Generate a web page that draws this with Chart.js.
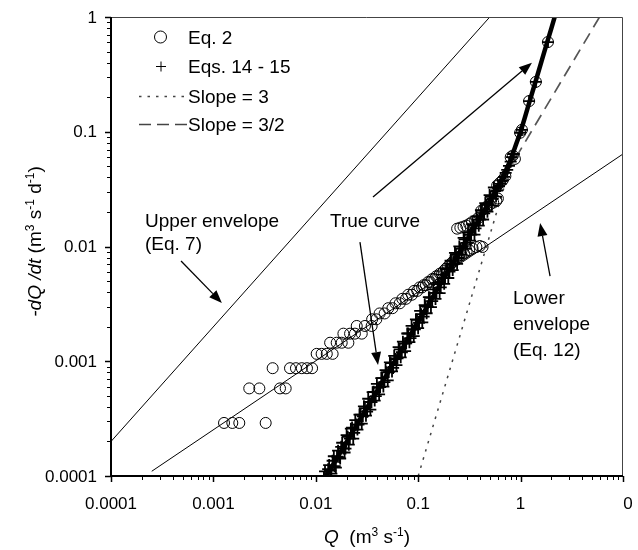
<!DOCTYPE html>
<html>
<head>
<meta charset="utf-8">
<script src="https://cdn.jsdelivr.net/npm/chart.js@4.4.0/dist/chart.umd.min.js"></script>
<style>
html, body { margin: 0; padding: 0; background: #fff; }
canvas { display: block; }
</style>
</head>
<body>
<canvas id="chart" width="638" height="550"></canvas>
<script>
// Eq. 2 (circles), Q and -dQ/dt
var eq2Q = [0.00127, 0.00153, 0.00179, 0.00324,
  0.00224, 0.00281, 0.00447, 0.00508,
  0.00379, 0.0056, 0.0064, 0.0073, 0.0082, 0.0092,
  0.0102, 0.0114, 0.0128, 0.0146,
  0.0138, 0.0160, 0.0179, 0.0208,
  0.0186, 0.0216, 0.0241, 0.0281,
  0.0251, 0.0302, 0.0351,
  0.0355, 0.039, 0.042, 0.047, 0.051, 0.056, 0.060, 0.066, 0.070, 0.076,
  0.080, 0.087, 0.091, 0.098, 0.103, 0.109, 0.113, 0.119, 0.125, 0.131,
  0.137, 0.144, 0.150, 0.157, 0.163, 0.171, 0.177, 0.186, 0.196, 0.206,
  0.216, 0.226, 0.238, 0.250, 0.265, 0.280, 0.297, 0.315, 0.340, 0.370, 0.400, 0.425,
  0.240, 0.258, 0.277, 0.295, 0.315, 0.335, 0.360, 0.385,
  0.413, 0.440, 0.465, 0.500, 0.540, 0.580, 0.600,
  0.590, 0.630, 0.670, 0.710, 0.800, 0.840, 0.880,
  0.990, 1.030, 1.210, 1.410, 1.850];
var eq2Y = [0.00029, 0.00029, 0.00029, 0.00029,
  0.00058, 0.00058, 0.00058, 0.00058,
  0.00087, 0.00087, 0.00087, 0.00087, 0.00087, 0.00087,
  0.00116, 0.00116, 0.00116, 0.00116,
  0.00145, 0.00145, 0.00145, 0.00145,
  0.00174, 0.00174, 0.00174, 0.00174,
  0.00203, 0.00203, 0.00203,
  0.00232, 0.00232, 0.00261, 0.00261, 0.0029, 0.0029, 0.0032, 0.0032, 0.0035, 0.0035,
  0.0038, 0.0038, 0.0041, 0.0041, 0.0044, 0.0044, 0.0046, 0.0046, 0.0049, 0.0049,
  0.0052, 0.0052, 0.0055, 0.0055, 0.0058, 0.0058, 0.0061, 0.0064, 0.0067, 0.0070,
  0.0073, 0.0076, 0.0079, 0.0081, 0.0084, 0.0087, 0.0090, 0.0093, 0.0096, 0.0099, 0.0101, 0.0099,
  0.0143, 0.0146, 0.0149, 0.0152, 0.0157, 0.0163, 0.0168, 0.0177,
  0.0205, 0.0212, 0.0222, 0.0232, 0.0241, 0.0250, 0.0262,
  0.034, 0.036, 0.038, 0.041, 0.060, 0.062, 0.058,
  0.098, 0.104, 0.185, 0.272, 0.605];

// Eqs. 14 - 15 (plus signs)
var eqsQ = [0.0120, 0.0126, 0.0132, 0.0139, 0.0146, 0.0153, 0.0161, 0.0169, 0.0177, 0.0186,
  0.0195, 0.0205, 0.0215, 0.0226, 0.0237, 0.0249, 0.0261, 0.0274, 0.0288, 0.0302,
  0.0317, 0.0333, 0.0350, 0.0367, 0.0385, 0.0405, 0.0425, 0.0446, 0.0468, 0.0492,
  0.0516, 0.0542, 0.0569, 0.0598, 0.0628, 0.0659, 0.0692, 0.0727, 0.0763, 0.0801,
  0.0841, 0.0883, 0.0927, 0.0974, 0.102, 0.107, 0.113, 0.118, 0.124, 0.130,
  0.137, 0.144, 0.151, 0.158, 0.166, 0.175, 0.183, 0.192, 0.202, 0.212,
  0.223, 0.234, 0.246, 0.258, 0.271, 0.284, 0.299, 0.314, 0.329, 0.346,
  0.363, 0.381, 0.400, 0.420, 0.441, 0.463, 0.486, 0.510, 0.535, 0.562, 0.590,
  0.615, 0.640, 0.665, 0.690, 0.715, 0.740, 0.770, 0.800, 0.820, 0.860,
  0.990, 1.030, 1.210, 1.410, 1.850,
  0.0123, 0.0129, 0.0135, 0.0142, 0.0150, 0.0157, 0.0165, 0.0173, 0.0181, 0.0191,
  0.0200, 0.0210, 0.0220, 0.0232, 0.0243, 0.0255, 0.0267, 0.0281, 0.0295, 0.0309,
  0.0325, 0.0341, 0.0359, 0.0376, 0.0395, 0.0415, 0.0436, 0.0457, 0.0480, 0.0504,
  0.0529, 0.0555, 0.0583, 0.0613, 0.0644, 0.0675, 0.0709, 0.0745, 0.0782, 0.0821,
  0.0862, 0.0905, 0.0950, 0.0998, 0.1045, 0.1096, 0.1158, 0.1209, 0.1271, 0.1332,
  0.1404, 0.1476, 0.1547, 0.1619, 0.1701, 0.1793, 0.1875, 0.1967, 0.2070, 0.2172,
  0.2285, 0.2398, 0.2521, 0.2644, 0.2777, 0.2910, 0.3064, 0.3218, 0.3371, 0.3545,
  0.3720, 0.3904, 0.4099, 0.4304, 0.4519, 0.4744, 0.4980, 0.5226, 0.5482, 0.5759];
var eqsY = [0.0000966, 0.0000931, 0.0001147, 0.0001113, 0.0001358, 0.0001219, 0.0001473, 0.0001461, 0.0001797, 0.0001740,
  0.0001735, 0.0002199, 0.0002119, 0.0002640, 0.0002375, 0.0002805, 0.0002804, 0.0003429, 0.0003318, 0.0003894,
  0.0003635, 0.0004424, 0.0004400, 0.0005413, 0.0004971, 0.0005876, 0.0005949, 0.0007121, 0.0006591, 0.0008021,
  0.0008041, 0.0009628, 0.0008741, 0.0010442, 0.0010575, 0.0012671, 0.0011978, 0.0014271, 0.0014310, 0.0017456,
  0.0015877, 0.0018918, 0.0018967, 0.0022981, 0.0021663, 0.0025726, 0.0024463, 0.0030076, 0.0029955, 0.0035764,
  0.0033366, 0.0039399, 0.0039431, 0.0047040, 0.0044029, 0.0053296, 0.0053156, 0.0064781, 0.0060373, 0.0069695,
  0.0070766, 0.0085576, 0.0079429, 0.0096321, 0.0095791, 0.0115479, 0.0107580, 0.0126862, 0.0126814, 0.0152440,
  0.0143907, 0.0171205, 0.0171774, 0.0205777, 0.0194751, 0.0231558, 0.0232424, 0.0270245, 0.0260228, 0.0303769, 0.0307713,
  0.0335, 0.0352, 0.0378, 0.0405, 0.0438, 0.0465, 0.0505, 0.0548, 0.060, 0.064,
  0.098, 0.104, 0.185, 0.272, 0.605,
  0.0001097, 0.0000893, 0.0001244, 0.0001047, 0.0001486, 0.0001182, 0.0001661, 0.0001420, 0.0001948, 0.0001603,
  0.0002274, 0.0001875, 0.0002587, 0.0002121, 0.0003073, 0.0002538, 0.0003429, 0.0002865, 0.0004045, 0.0003354,
  0.0004713, 0.0003794, 0.0005373, 0.0004543, 0.0006363, 0.0005148, 0.0007124, 0.0006017, 0.0008380, 0.0006814,
  0.0009787, 0.0008154, 0.0011136, 0.0009238, 0.0013254, 0.0010809, 0.0014803, 0.0012240, 0.0017444, 0.0014649,
  0.0020364, 0.0016574, 0.0023156, 0.0019422, 0.0027436, 0.0021855, 0.0030890, 0.0026193, 0.0036143, 0.0029609,
  0.0042341, 0.0034914, 0.0048141, 0.0039216, 0.0056963, 0.0047307, 0.0063661, 0.0053144, 0.0075145, 0.0062368,
  0.0087929, 0.0070682, 0.0100106, 0.0084684, 0.0118821, 0.0095604, 0.0132955, 0.0112424, 0.0156202, 0.0127085,
  0.0182615, 0.0151969, 0.0207562, 0.0171940, 0.0238155, 0.0201296, 0.0280445, 0.0227425, 0.0326751, 0.0272256];

// true curve (thick line)
var trueQ = [0.011, 0.02, 0.05, 0.1, 0.2, 0.3, 0.4, 0.5, 0.6, 0.7, 0.8, 0.9, 1.0, 1.1, 1.2, 1.4, 1.6, 1.8, 2.0, 2.2];
var trueY = [0.000081, 0.000198, 0.00078, 0.0022, 0.0063, 0.0115, 0.0177, 0.0247, 0.0335, 0.0435, 0.057, 0.077, 0.100, 0.133, 0.173, 0.274, 0.41, 0.585, 0.80, 1.07];

// reference lines, end points
var slope3Q = [0.1, 2.154];
var slope3Y = [0.0001, 1];
var slope32Q = [0.3, 5.9];
var slope32Y = [0.0115, 1];
var upperQ = [0.0001, 0.5];
var upperY = [0.0002, 1];
var lowerQ = [0.00025, 10];
var lowerY = [0.00011, 0.064];

// axes
var xTickValues = [0.0001, 0.001, 0.01, 0.1, 1, 10];
var xTickLabels = ['0.0001', '0.001', '0.01', '0.1', '1', '0'];
var yTickValues = [0.0001, 0.001, 0.01, 0.1, 1];
var yTickLabels = ['0.0001', '0.001', '0.01', '0.1', '1'];

// arrows: [fromQ, fromY, toQ, toY]
var arrows = [
  [0.000483, 0.00748, 0.00121, 0.00322],
  [0.0362, 0.027, 1.29, 0.40],
  [0.027, 0.0109, 0.0405, 0.000927],
  [1.94, 0.00553, 1.55, 0.016]
];

var fontFamily = '"Liberation Sans", Arial, Helvetica, sans-serif';

function pts(qs, ys) {
  return qs.map(function (q, i) { return { x: q, y: ys[i] }; });
}

function drawArrow(ctx, x0, y0, x1, y1) {
  var a = Math.atan2(y1 - y0, x1 - x0), len = 13, half = 5;
  var bx = x1 - len * Math.cos(a), by = y1 - len * Math.sin(a);
  ctx.beginPath();
  ctx.moveTo(x0, y0);
  ctx.lineTo(bx, by);
  ctx.stroke();
  ctx.beginPath();
  ctx.moveTo(x1, y1);
  ctx.lineTo(bx + half * Math.sin(a), by - half * Math.cos(a));
  ctx.lineTo(bx - half * Math.sin(a), by + half * Math.cos(a));
  ctx.closePath();
  ctx.fill();
}

// runs: [text, italic, superscript]
function runFont(r, size) {
  return (r[1] ? 'italic ' : '') + (r[2] ? 12 : size) + 'px ' + fontFamily;
}
function runsWidth(ctx, runs, size) {
  var w = 0;
  runs.forEach(function (r) { ctx.font = runFont(r, size); w += ctx.measureText(r[0]).width; });
  return w;
}
function drawRuns(ctx, runs, x, y, size) {
  runs.forEach(function (r) {
    ctx.font = runFont(r, size);
    ctx.fillText(r[0], x, r[2] ? y - 7 : y);
    x += ctx.measureText(r[0]).width;
  });
}

var decorPlugin = {
  id: 'decor',
  afterDatasetsDraw: function (chart) {
    var ctx = chart.ctx, xs = chart.scales.x, ys = chart.scales.y, ca = chart.chartArea;
    ctx.save();
    ctx.fillStyle = '#000';
    ctx.strokeStyle = '#000';

    // frame
    ctx.lineWidth = 1;
    ctx.strokeStyle = '#444';
    ctx.beginPath();
    ctx.moveTo(ca.left, ca.top + 0.5);
    ctx.lineTo(ca.right - 0.5, ca.top + 0.5);
    ctx.lineTo(ca.right - 0.5, ca.bottom);
    ctx.stroke();
    ctx.strokeStyle = '#000';
    ctx.lineWidth = 2;
    ctx.beginPath();
    ctx.moveTo(ca.left, ca.top);
    ctx.lineTo(ca.left, ca.bottom);
    ctx.lineTo(ca.right, ca.bottom);
    ctx.stroke();

    // ticks
    function ticks(scale, values, horizontal) {
      values.forEach(function (v, i) {
        var list = [[v, 6]];
        if (i < values.length - 1) {
          for (var k = 2; k <= 9; k++) list.push([k * v, 4]);
        }
        list.forEach(function (t) {
          var p = Math.round(scale.getPixelForValue(t[0])) + 0.5;
          ctx.lineWidth = t[1] === 6 ? 1.5 : 1;
          ctx.beginPath();
          if (horizontal) { ctx.moveTo(p, ca.bottom); ctx.lineTo(p, ca.bottom + t[1]); }
          else { ctx.moveTo(ca.left - t[1], p); ctx.lineTo(ca.left, p); }
          ctx.stroke();
        });
      });
    }
    ticks(xs, xTickValues, true);
    ticks(ys, yTickValues, false);

    // tick labels
    ctx.font = '17px ' + fontFamily;
    ctx.textAlign = 'center';
    ctx.textBaseline = 'alphabetic';
    xTickValues.forEach(function (v, i) {
      var x = xs.getPixelForValue(v);
      if (i === xTickValues.length - 1) x += 5;
      ctx.fillText(xTickLabels[i], x, 509);
    });
    ctx.textAlign = 'right';
    ctx.textBaseline = 'middle';
    yTickValues.forEach(function (v, i) {
      ctx.fillText(yTickLabels[i], 97, ys.getPixelForValue(v) + 1);
    });

    // axis titles
    ctx.textAlign = 'left';
    ctx.textBaseline = 'alphabetic';
    var xt = [['Q', true], ['  (m', false], ['3', false, true], [' s', false], ['-1', false, true], [')', false]];
    var w = runsWidth(ctx, xt, 19);
    drawRuns(ctx, xt, 367 - w / 2, 543, 19);

    var yt = [['-dQ /dt', true], [' (m', false], ['3', false, true], [' s', false], ['-1', false, true],
      [' d', false], ['-1', false, true], [')', false]];
    ctx.save();
    ctx.translate(41, 241.5);
    ctx.rotate(-Math.PI / 2);
    w = runsWidth(ctx, yt, 19);
    drawRuns(ctx, yt, -w / 2, 0, 19);
    ctx.restore();

    // legend
    ctx.lineWidth = 1;
    ctx.beginPath();
    ctx.arc(160.5, 37, 6, 0, Math.PI * 2);
    ctx.stroke();
    ctx.beginPath();
    ctx.moveTo(156, 66.5); ctx.lineTo(166, 66.5);
    ctx.moveTo(161, 61.5); ctx.lineTo(161, 71.5);
    ctx.stroke();
    ctx.strokeStyle = '#444';
    ctx.lineWidth = 1.5;
    ctx.setLineDash([2.5, 6]);
    ctx.beginPath(); ctx.moveTo(139, 96.5); ctx.lineTo(187, 96.5); ctx.stroke();
    ctx.setLineDash([12, 6]);
    ctx.beginPath(); ctx.moveTo(139, 124.5); ctx.lineTo(189, 124.5); ctx.stroke();
    ctx.setLineDash([]);
    ctx.strokeStyle = '#000';
    ctx.font = '19px ' + fontFamily;
    ctx.fillText('Eq. 2', 188, 44);
    ctx.fillText('Eqs. 14 - 15', 188, 73);
    ctx.fillText('Slope = 3', 188, 103);
    ctx.fillText('Slope = 3/2', 188, 131);

    // annotations
    ctx.fillText('Upper envelope', 145, 227);
    ctx.fillText('(Eq. 7)', 145, 250);
    ctx.fillText('True curve', 330, 227);
    ctx.fillText('Lower', 513, 304);
    ctx.fillText('envelope', 513, 330);
    ctx.fillText('(Eq. 12)', 513, 356);

    ctx.lineWidth = 1.3;
    arrows.forEach(function (a) {
      drawArrow(ctx, xs.getPixelForValue(a[0]), ys.getPixelForValue(a[1]),
        xs.getPixelForValue(a[2]), ys.getPixelForValue(a[3]));
    });
    ctx.restore();
  }
};

function lineSet(label, qs, ys, color, width, dash, order) {
  return {
    label: label, data: pts(qs, ys), showLine: true, pointRadius: 0,
    borderColor: color, borderWidth: width, borderDash: dash, fill: false,
    tension: 0, clip: 0, order: order
  };
}

var ctx = document.getElementById('chart');

new Chart(ctx, {
  type: 'scatter',
  data: {
    datasets: [
      {
        label: 'Eq. 2', data: pts(eq2Q, eq2Y), pointStyle: 'circle', pointRadius: 5.5,
        borderColor: '#000', backgroundColor: 'rgba(0,0,0,0)', borderWidth: 1, order: 1
      },
      {
        label: 'Eqs. 14 - 15', data: pts(eqsQ, eqsY), pointStyle: 'cross', pointRadius: 6,
        borderColor: '#000', backgroundColor: '#000', borderWidth: 1.8, order: 2
      },
      lineSet('True curve', trueQ, trueY, '#000', 4.5, [], 3),
      lineSet('Slope = 3', slope3Q, slope3Y, '#444', 1.5, [2.5, 6], 4),
      lineSet('Slope = 3/2', slope32Q, slope32Y, '#555', 1.7, [12, 7], 5),
      lineSet('Upper envelope', upperQ, upperY, '#000', 1, [], 6),
      lineSet('Lower envelope', lowerQ, lowerY, '#000', 1, [], 7)
    ]
  },
  options: {
    responsive: false,
    animation: false,
    devicePixelRatio: 1,
    events: [],
    layout: { padding: { left: 111, top: 17, right: 15, bottom: 74 } },
    plugins: { legend: { display: false }, tooltip: { enabled: false } },
    scales: {
      x: { type: 'logarithmic', min: 0.0001, max: 10, display: false },
      y: { type: 'logarithmic', min: 0.0001, max: 1, display: false }
    }
  },
  plugins: [decorPlugin]
});
</script>
</body>
</html>
